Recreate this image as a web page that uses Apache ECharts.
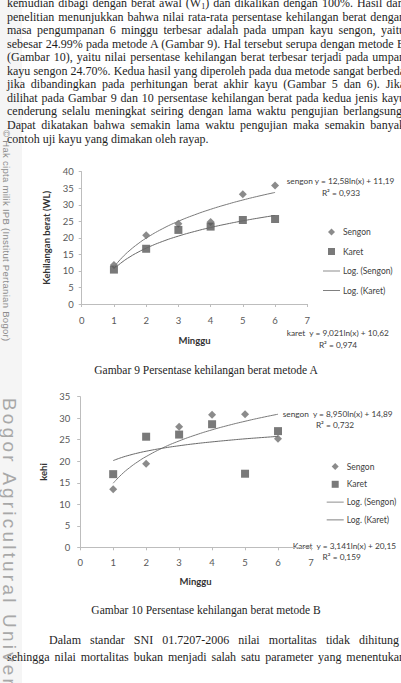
<!DOCTYPE html>
<html><head><meta charset="utf-8">
<script src="https://cdn.jsdelivr.net/npm/echarts@6/dist/echarts.min.js"></script>
<style>
html,body{margin:0;padding:0;width:401px;height:683px;overflow:hidden;background:#fff;}
#strip{position:absolute;left:0;top:0;width:22px;height:683px;background:#f5f5f5;}
#chart{position:absolute;left:0;top:0;width:401px;height:683px;}
.ln{position:absolute;left:7px;width:398px;white-space:nowrap;text-align:justify;text-align-last:justify;font-family:"Liberation Serif";font-size:12px;line-height:14px;color:#1e1e1e;}
.ln sub{font-size:8px;line-height:0;vertical-align:-2px;}
.cap{position:absolute;left:0;width:412px;text-align:center;white-space:nowrap;font-family:"Liberation Serif";font-size:11.5px;line-height:14px;color:#1e1e1e;}
.wm{position:absolute;transform-origin:0 0;transform:rotate(90deg);white-space:nowrap;font-family:"Liberation Sans";}
</style></head><body>
<div id="strip"></div>
<div id="chart"></div>
<div id="text"></div>
<script>
// ---------- page text ----------
const topLines = [
  "kemudian dibagi dengan berat awal (W<sub>1</sub>) dan dikalikan dengan 100%. Hasil dari",
  "penelitian menunjukkan bahwa nilai rata-rata persentase kehilangan berat dengan",
  "masa pengumpanan 6 minggu terbesar adalah pada umpan kayu sengon, yaitu",
  "sebesar 24.99% pada metode A (Gambar 9). Hal tersebut serupa dengan metode B",
  "(Gambar 10), yaitu nilai persentase kehilangan berat terbesar terjadi pada umpan",
  "kayu sengon 24.70%. Kedua hasil yang diperoleh pada dua metode sangat berbeda",
  "jika dibandingkan pada perhitungan berat akhir kayu (Gambar 5 dan 6). Jika",
  "dilihat pada Gambar 9 dan 10 persentase kehilangan berat pada kedua jenis kayu",
  "cenderung selalu meningkat seiring dengan lama waktu pengujian berlangsung.",
  "Dapat dikatakan bahwa semakin lama waktu pengujian maka semakin banyak",
  "contoh uji kayu yang dimakan oleh rayap."
];
const caption9 = "Gambar 9 Persentase kehilangan berat metode A";
const caption10 = "Gambar 10 Persentase kehilangan berat metode B";
const bottomLine1 = "Dalam standar SNI 01.7207-2006 nilai mortalitas tidak dihitung";
const bottomLine2 = "sehingga nilai mortalitas bukan menjadi salah satu parameter yang menentukan";
const watermark1 = "© Hak cipta milik IPB (Institut Pertanian Bogor)";
const watermark2 = "Bogor Agricultural University";

// ---------- chart data ----------
const weeks = [1, 2, 3, 4, 5, 6];
// Gambar 9 (metode A)
const sengonA = [11.8, 20.8, 24.3, 24.8, 33.2, 35.8];
const karetA  = [10.4, 16.7, 22.4, 23.4, 25.4, 25.7];
// Gambar 10 (metode B)
const sengonB = [13.5, 19.4, 28.0, 30.8, 30.9, 25.2];
const karetB  = [17.0, 25.7, 26.2, 28.6, 17.1, 27.0];
// logarithmic trend lines as drawn
const trendX = [1, 1.25, 1.5, 1.75, 2, 2.5, 3, 3.5, 4, 4.5, 5, 5.5, 6];
const trendSengonA = [11.19, 14.00, 16.29, 18.23, 19.91, 22.72, 25.01, 26.95, 28.63, 30.11, 31.44, 32.64, 33.73];
const trendKaretA  = [10.62, 12.63, 14.28, 15.67, 16.87, 18.89, 20.53, 21.92, 23.13, 24.19, 25.14, 26.00, 26.78];
const trendSengonB = [14.89, 16.89, 18.52, 19.90, 21.09, 23.09, 24.72, 26.10, 27.30, 28.35, 29.29, 30.15, 30.93];
const trendKaretB  = [20.15, 20.85, 21.42, 21.91, 22.33, 23.03, 23.60, 24.09, 24.50, 24.87, 25.21, 25.50, 25.78];
const legendNames = ["Sengon", "Karet", "Log. (Sengon)", "Log. (Karet)"];
const eqA = ["sengon y = 12,58ln(x) + 11,19", "R² = 0,933", "karet  y = 9,021ln(x) + 10,62", "R² = 0,974"];
const eqB = ["sengon  y = 8,950ln(x) + 14,89", "R² = 0,732", "Karet  y = 3,141ln(x) + 20,15", "R² = 0,159"];
const yTitleA = "Kehilangan berat (WL)";
const yTitleB = "kehi";
const xTitle = "Minggu";

// ---------- build page text ----------
const T = document.getElementById('text');
function addDiv(cls, html, css) {
  const d = document.createElement('div');
  d.className = cls; d.innerHTML = html; Object.assign(d.style, css); T.appendChild(d);
}
topLines.forEach((s, i) => {
  const c = 3 + 13.55 * i;
  const css = {top: (c - 7) + 'px'};
  if (i === topLines.length - 1) { css.textAlignLast = 'left'; }
  addDiv('ln', s, css);
});
addDiv('cap', caption9, {top: (370 - 7) + 'px'});
addDiv('cap', caption10, {top: (610 - 7) + 'px'});
addDiv('ln', bottomLine1, {top: (640 - 7) + 'px', left: '49px', width: '350px'});
addDiv('ln', bottomLine2, {top: (657 - 7) + 'px'});
addDiv('wm', watermark1, {left: '11.5px', top: '130px', fontSize: '9.5px', color: '#8c8c8c', lineHeight: '11px', letterSpacing: '0.3px'});
addDiv('wm', watermark2, {left: '20px', top: '398px', fontSize: '19px', color: '#a8a8a8', lineHeight: '21px', letterSpacing: '3.2px'});

// ---------- chart ----------
const FONT = 'Lato';
const axisGray = '#bdbdbd';
const tickColor = '#595959';
const pair = (xs, ys) => xs.map((x, i) => [x, ys[i]]);
const diamondPath = 'path://M5,0L10,5L5,10L0,5Z';
const squarePath = 'path://M0,0H10V10H0Z';
const linePath = 'path://M0,0H20V1H0Z';

function xAxis(gridIndex, gap, margin) {
  return {
    gridIndex, type: 'value', min: 0, max: 7, interval: 1,
    axisLine: {show: true, lineStyle: {color: axisGray, width: 1}},
    axisTick: {show: true, length: 3, lineStyle: {color: axisGray}},
    splitLine: {show: false},
    axisLabel: {color: tickColor, fontSize: 9.5, fontFamily: FONT, margin},
    name: xTitle, nameLocation: 'middle', nameGap: gap,
    nameTextStyle: {color: '#333', fontSize: 9.5, fontWeight: 'bold', fontFamily: FONT}
  };
}
function yAxis(gridIndex, max, name, gap, margin) {
  return {
    gridIndex, type: 'value', min: 0, max, interval: 5,
    axisLine: {show: true, lineStyle: {color: axisGray, width: 1}},
    axisTick: {show: true, length: 3, lineStyle: {color: axisGray}},
    splitLine: {show: false},
    axisLabel: {color: tickColor, fontSize: 9.5, fontFamily: FONT, margin},
    name, nameLocation: 'middle', nameGap: gap,
    nameTextStyle: {color: '#333', fontSize: 9.5, fontWeight: 'bold', fontFamily: FONT}
  };
}
function seriesSet(idx, s, k, ts, tk) {
  return [
    {name: 'Sengon', type: 'scatter', xAxisIndex: idx, yAxisIndex: idx, data: pair(weeks, s),
     symbol: 'diamond', symbolSize: 8, itemStyle: {color: '#6e6e6e'}, z: 3},
    {name: 'Karet', type: 'scatter', xAxisIndex: idx, yAxisIndex: idx, data: pair(weeks, k),
     symbol: 'rect', symbolSize: 8, itemStyle: {color: '#575757'}, z: 3},
    {name: 'Log. (Sengon)', type: 'line', xAxisIndex: idx, yAxisIndex: idx, data: pair(trendX, ts),
     smooth: true, showSymbol: false, symbol: 'none', lineStyle: {color: '#7a7a7a', width: 1},
     itemStyle: {color: '#7a7a7a'}, z: 4},
    {name: 'Log. (Karet)', type: 'line', xAxisIndex: idx, yAxisIndex: idx, data: pair(trendX, tk),
     smooth: true, showSymbol: false, symbol: 'none', lineStyle: {color: '#6a6a6a', width: 1},
     itemStyle: {color: '#6a6a6a'}, z: 4}
  ];
}
function legend(left, top, gap) {
  return {
    orient: 'vertical', left, top, padding: 0, itemWidth: 17, itemHeight: 7, itemGap: gap,
    selectedMode: false, symbolKeepAspect: true,
    itemStyle: {borderWidth: 0},
    textStyle: {color: '#404040', fontSize: 8.5, fontFamily: FONT, padding: [0, 0, 0, -2]},
    data: [
      {name: legendNames[0], icon: diamondPath},
      {name: legendNames[1], icon: squarePath},
      {name: legendNames[2], icon: linePath},
      {name: legendNames[3], icon: linePath}
    ]
  };
}
function txt(text, x, y, align) {
  return {type: 'text', x, y, silent: true,
    style: {text, fill: '#3c3c3c', fontSize: 8.3, fontFamily: FONT, align: align || 'left', verticalAlign: 'middle'}};
}

const chart = echarts.init(document.getElementById('chart'), null, {renderer: 'svg'});
chart.setOption({
  animation: false,
  backgroundColor: 'transparent',
  grid: [
    {left: 81.7, top: 171.7, width: 225.6, height: 132.3},
    {left: 80.2, top: 396.7, width: 230.8, height: 150.6}
  ],
  xAxis: [xAxis(0, 31, 11), xAxis(1, 29, 10)],
  yAxis: [yAxis(0, 40, yTitleA, 18, 8), yAxis(1, 35, yTitleB, 16, 10)],
  legend: [legend(323, 227.5, 10.5), legend(326.7, 462, 8.8)],
  series: [
    ...seriesSet(0, sengonA, karetA, trendSengonA, trendKaretA),
    ...seriesSet(1, sengonB, karetB, trendSengonB, trendKaretB)
  ],
  graphic: [
    txt(eqA[0], 286.7, 180.7), txt(eqA[1], 341, 193.3, 'center'),
    txt(eqA[2], 286.7, 333.3), txt(eqA[3], 338, 345, 'center'),
    txt(eqB[0], 282.7, 414), txt(eqB[1], 335, 425, 'center'),
    txt(eqB[2], 292.7, 545.7), txt(eqB[3], 341.7, 556.7, 'center')
  ]
});
</script>
</body></html>
